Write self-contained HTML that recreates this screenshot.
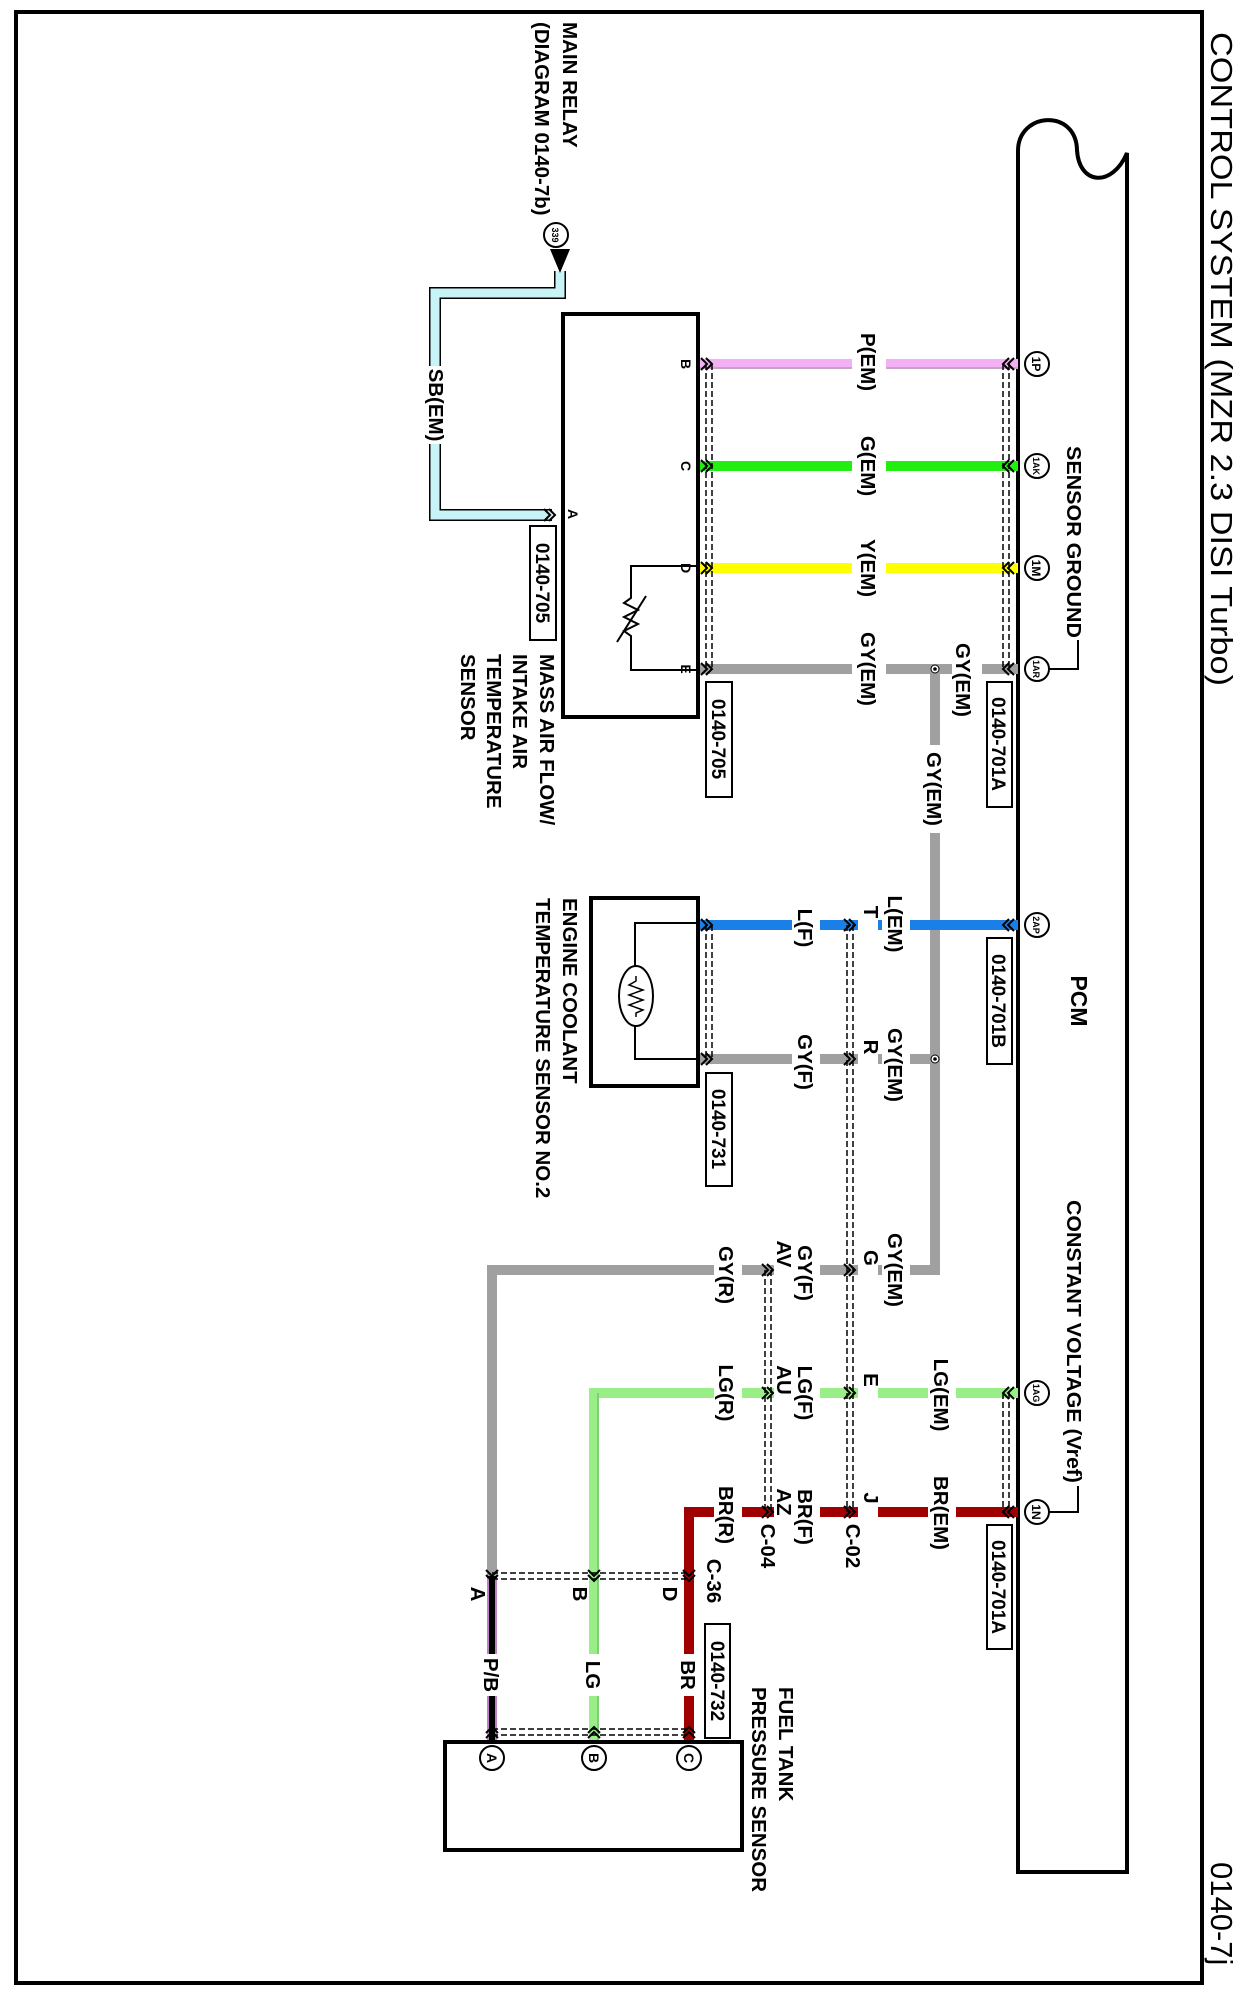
<!DOCTYPE html>
<html><head><meta charset="utf-8"><style>
html,body{margin:0;padding:0;background:#fff}
svg{display:block}
text{font-family:"Liberation Sans",Arial,sans-serif;font-weight:bold;fill:#000}
</style></head><body>
<svg width="1244" height="1998" viewBox="0 0 1244 1998" xmlns="http://www.w3.org/2000/svg">
<defs>
<path id="chl" d="M7,-6 L1,0 L7,6 M12,-6 L6,0 L12,6" fill="none" stroke="#000" stroke-width="2"/>
</defs>
<rect x="0" y="0" width="1244" height="1998" fill="#fff"/>
<rect x="16" y="12" width="1186" height="1971" fill="none" stroke="#000" stroke-width="4"/>
<text transform="translate(1211,32) rotate(90)" font-size="31" textLength="654" lengthAdjust="spacingAndGlyphs" style="font-weight:normal">CONTROL SYSTEM (MZR 2.3 DISI Turbo)</text>
<text transform="translate(1211,1862) rotate(90)" font-size="31" style="font-weight:normal">0140-7j</text>

<path d="M1018,1872 V151 C1018,112 1076,108 1077,150 C1079,185 1112,188 1127,153 V1872 Z" fill="none" stroke="#000" stroke-width="4"/>
<text transform="translate(1071,1001) rotate(90)" font-size="23" text-anchor="middle">PCM</text>
<text transform="translate(1067,446) rotate(90)" font-size="20.5" textLength="192" lengthAdjust="spacingAndGlyphs">SENSOR GROUND</text>
<polyline points="1078,640 1078,669 1049,669" fill="none" stroke="#000" stroke-width="2"/>
<text transform="translate(1067,1200) rotate(90)" font-size="20.5" textLength="283" lengthAdjust="spacingAndGlyphs">CONSTANT VOLTAGE (Vref)</text>
<polyline points="1078,1486 1078,1512 1049,1512" fill="none" stroke="#000" stroke-width="2"/>

<line x1="935" y1="669" x2="935" y2="1275" stroke="#a0a0a0" stroke-width="10"/>

<g stroke-width="10" fill="none">
<line x1="698" y1="364" x2="1018" y2="364" stroke="#f4b0f4"/>
<line x1="698" y1="466" x2="1018" y2="466" stroke="#22ee11"/>
<line x1="698" y1="568" x2="1018" y2="568" stroke="#ffff00"/>
<line x1="698" y1="669" x2="1018" y2="669" stroke="#a0a0a0"/>
<line x1="698" y1="925" x2="1018" y2="925" stroke="#1a80e8"/>
<line x1="698" y1="1059" x2="935" y2="1059" stroke="#a0a0a0"/>
<polyline points="940,1270 492,1270 492,1576" stroke="#a0a0a0"/>
<polyline points="1018,1393 594,1393 594,1743" stroke="#99ee88"/>
<polyline points="1018,1512 689,1512 689,1743" stroke="#a00000"/>
<line x1="492" y1="1576" x2="492" y2="1743" stroke="#000"/>
</g>
<line x1="698" y1="368" x2="1018" y2="368" stroke="#999" stroke-width="1"/>
<line x1="488" y1="1578" x2="488" y2="1743" stroke="#c080c8" stroke-width="2"/>
<line x1="496" y1="1578" x2="496" y2="1743" stroke="#c080c8" stroke-width="2"/>
<line x1="598" y1="1393" x2="598" y2="1743" stroke="#6a6" stroke-width="1"/>

<polyline points="560,271 560,293 435,293 435,515 552,515" fill="none" stroke="#000" stroke-width="12"/>
<polyline points="560,271 560,293 435,293 435,515 552,515" fill="none" stroke="#c8f4f8" stroke-width="9"/>
<polygon points="550,249 570,249 560,273" fill="#000"/>
<circle cx="556" cy="235" r="12" fill="#fff" stroke="#000" stroke-width="2"/>
<text transform="translate(552,235) rotate(90)" font-size="9" text-anchor="middle">339</text>
<text transform="translate(563,22) rotate(90)" font-size="20.5">MAIN RELAY</text>
<text transform="translate(535,22) rotate(90)" font-size="20.5">(DIAGRAM 0140-7b)</text>

<g fill="#fff">
<rect x="852" y="330" width="34" height="68"/>
<rect x="852" y="432" width="34" height="68"/>
<rect x="852" y="534" width="34" height="68"/>
<rect x="852" y="630" width="34" height="78"/>
<rect x="952" y="650" width="30" height="60"/>
<rect x="926" y="745" width="20" height="88"/>
<rect x="425" y="366" width="22" height="78"/>
<rect x="792" y="906" width="28" height="42"/>
<rect x="858" y="900" width="20" height="50"/>
<rect x="882" y="891" width="28" height="66"/>
<rect x="792" y="1030" width="28" height="64"/>
<rect x="858" y="1035" width="20" height="50"/>
<rect x="882" y="1026" width="28" height="78"/>
<rect x="882" y="1228" width="28" height="84"/>
<rect x="858" y="1245" width="20" height="45"/>
<rect x="792" y="1241" width="28" height="64"/>
<rect x="774" y="1238" width="20" height="45"/>
<rect x="714" y="1241" width="28" height="68"/>
<rect x="928" y="1351" width="28" height="88"/>
<rect x="858" y="1370" width="20" height="45"/>
<rect x="792" y="1361" width="28" height="64"/>
<rect x="774" y="1363" width="20" height="45"/>
<rect x="714" y="1361" width="28" height="64"/>
<rect x="928" y="1470" width="28" height="86"/>
<rect x="858" y="1488" width="20" height="45"/>
<rect x="792" y="1485" width="28" height="64"/>
<rect x="774" y="1487" width="20" height="45"/>
<rect x="714" y="1481" width="28" height="68"/>
<rect x="480" y="1654" width="24" height="42"/>
<rect x="582" y="1654" width="24" height="42"/>
<rect x="677" y="1654" width="24" height="42"/>
</g>

<g font-size="20.5" text-anchor="middle">
<text transform="translate(861,362) rotate(90)">P(EM)</text>
<text transform="translate(861,466) rotate(90)">G(EM)</text>
<text transform="translate(861,568) rotate(90)">Y(EM)</text>
<text transform="translate(861,669) rotate(90)">GY(EM)</text>
<text transform="translate(956,680) rotate(90)">GY(EM)</text>
<text transform="translate(927,789) rotate(90)">GY(EM)</text>
<text transform="translate(429,405) rotate(90)">SB(EM)</text>
<text transform="translate(798,928) rotate(90)">L(F)</text>
<text transform="translate(864,912) rotate(90)">T</text>
<text transform="translate(888,924) rotate(90)">L(EM)</text>
<text transform="translate(798,1062) rotate(90)">GY(F)</text>
<text transform="translate(864,1047) rotate(90)">R</text>
<text transform="translate(888,1065) rotate(90)">GY(EM)</text>
<text transform="translate(888,1270) rotate(90)">GY(EM)</text>
<text transform="translate(864,1258) rotate(90)">G</text>
<text transform="translate(798,1273) rotate(90)">GY(F)</text>
<text transform="translate(777,1254) rotate(90)">AV</text>
<text transform="translate(719,1275) rotate(90)">GY(R)</text>
<text transform="translate(934,1395) rotate(90)">LG(EM)</text>
<text transform="translate(864,1380) rotate(90)">E</text>
<text transform="translate(798,1393) rotate(90)">LG(F)</text>
<text transform="translate(777,1380) rotate(90)">AU</text>
<text transform="translate(719,1393) rotate(90)">LG(R)</text>
<text transform="translate(934,1513) rotate(90)">BR(EM)</text>
<text transform="translate(864,1498) rotate(90)">J</text>
<text transform="translate(798,1517) rotate(90)">BR(F)</text>
<text transform="translate(777,1502) rotate(90)">AZ</text>
<text transform="translate(719,1515) rotate(90)">BR(R)</text>
<text transform="translate(846,1546) rotate(90)">C-02</text>
<text transform="translate(761,1546) rotate(90)">C-04</text>
<text transform="translate(707,1581) rotate(90)">C-36</text>
<text transform="translate(484,1675) rotate(90)">P/B</text>
<text transform="translate(586,1675) rotate(90)">LG</text>
<text transform="translate(681,1675) rotate(90)">BR</text>
<text transform="translate(471,1594) rotate(90)">A</text>
<text transform="translate(573,1594) rotate(90)">B</text>
<text transform="translate(663,1594) rotate(90)">D</text>
</g>

<circle cx="935" cy="669" r="4" fill="#fff" stroke="#000" stroke-width="1"/><circle cx="935" cy="669" r="1.8" fill="#000"/>
<circle cx="935" cy="1059" r="4" fill="#fff" stroke="#000" stroke-width="1"/><circle cx="935" cy="1059" r="1.8" fill="#000"/>

<g stroke="#000" stroke-width="1.5" stroke-dasharray="6,3" fill="none">
<line x1="1003" y1="364" x2="1003" y2="669"/><line x1="1009" y1="364" x2="1009" y2="669"/>
<line x1="706" y1="364" x2="706" y2="669"/><line x1="712" y1="364" x2="712" y2="669"/>
<line x1="1003" y1="1393" x2="1003" y2="1512"/><line x1="1009" y1="1393" x2="1009" y2="1512"/>
<line x1="706" y1="925" x2="706" y2="1059"/><line x1="712" y1="925" x2="712" y2="1059"/>
<line x1="847" y1="925" x2="847" y2="1512"/><line x1="853" y1="925" x2="853" y2="1512"/>
<line x1="765" y1="1270" x2="765" y2="1512"/><line x1="771" y1="1270" x2="771" y2="1512"/>
<line x1="492" y1="1573" x2="689" y2="1573"/><line x1="492" y1="1579" x2="689" y2="1579"/>
<line x1="492" y1="1729" x2="689" y2="1729"/><line x1="492" y1="1735" x2="689" y2="1735"/>
</g>

<g>
<use href="#chl" transform="translate(1002,364)"/><use href="#chl" transform="translate(1002,466)"/>
<use href="#chl" transform="translate(1002,568)"/><use href="#chl" transform="translate(1002,669)"/>
<use href="#chl" transform="translate(1002,925)"/><use href="#chl" transform="translate(1002,1393)"/>
<use href="#chl" transform="translate(1002,1512)"/>
<use href="#chl" transform="translate(713,364) scale(-1,1)"/><use href="#chl" transform="translate(713,466) scale(-1,1)"/>
<use href="#chl" transform="translate(713,568) scale(-1,1)"/><use href="#chl" transform="translate(713,669) scale(-1,1)"/>
<use href="#chl" transform="translate(713,925) scale(-1,1)"/><use href="#chl" transform="translate(713,1059) scale(-1,1)"/>
<use href="#chl" transform="translate(856,925) scale(-1,1)"/><use href="#chl" transform="translate(856,1059) scale(-1,1)"/>
<use href="#chl" transform="translate(856,1270) scale(-1,1)"/><use href="#chl" transform="translate(856,1393) scale(-1,1)"/>
<use href="#chl" transform="translate(856,1512) scale(-1,1)"/>
<use href="#chl" transform="translate(774,1270) scale(-1,1)"/><use href="#chl" transform="translate(774,1393) scale(-1,1)"/>
<use href="#chl" transform="translate(774,1512) scale(-1,1)"/>
<use href="#chl" transform="translate(556,515) scale(-1,1)"/>
<use href="#chl" transform="translate(492,1582) rotate(-90)"/><use href="#chl" transform="translate(594,1582) rotate(-90)"/>
<use href="#chl" transform="translate(689,1582) rotate(-90)"/>
<use href="#chl" transform="translate(492,1726) rotate(90)"/><use href="#chl" transform="translate(594,1726) rotate(90)"/>
<use href="#chl" transform="translate(689,1726) rotate(90)"/>
</g>

<g fill="#fff" stroke="#000" stroke-width="2">
<circle cx="1037" cy="364" r="12"/><circle cx="1037" cy="466" r="12"/><circle cx="1037" cy="568" r="12"/>
<circle cx="1037" cy="669" r="12"/><circle cx="1037" cy="925" r="12"/><circle cx="1037" cy="1393" r="12"/>
<circle cx="1037" cy="1512" r="12"/>
</g>
<g font-size="12" text-anchor="middle">
<text transform="translate(1032,364) rotate(90)">1P</text>
<text transform="translate(1033,466) rotate(90)" font-size="9">1AK</text>
<text transform="translate(1032,568) rotate(90)">1M</text>
<text transform="translate(1033,669) rotate(90)" font-size="9">1AR</text>
<text transform="translate(1033,925) rotate(90)" font-size="9">2AP</text>
<text transform="translate(1033,1393) rotate(90)" font-size="9">1AG</text>
<text transform="translate(1032,1512) rotate(90)">1N</text>
</g>

<g fill="#fff" stroke="#000" stroke-width="2">
<rect x="987" y="682" width="25" height="125"/>
<rect x="706" y="682" width="26" height="115"/>
<rect x="530" y="526" width="26" height="114"/>
<rect x="987" y="938" width="25" height="126"/>
<rect x="706" y="1073" width="26" height="113"/>
<rect x="987" y="1525" width="25" height="124"/>
<rect x="705" y="1624" width="25" height="114"/>
</g>
<g font-size="19" text-anchor="middle">
<text transform="translate(992,744) rotate(90)">0140-701A</text>
<text transform="translate(712,739) rotate(90)">0140-705</text>
<text transform="translate(536,583) rotate(90)">0140-705</text>
<text transform="translate(992,1001) rotate(90)">0140-701B</text>
<text transform="translate(712,1129) rotate(90)">0140-731</text>
<text transform="translate(992,1587) rotate(90)">0140-701A</text>
<text transform="translate(711,1681) rotate(90)">0140-732</text>
</g>

<rect x="563" y="314" width="135" height="403" fill="none" stroke="#000" stroke-width="4"/>
<polyline points="698,566 631,566 631,598 624,603 638,610 624,617 638,624 624,631 631,636 631,670 698,670" fill="none" stroke="#000" stroke-width="2"/>
<line x1="617" y1="642" x2="646" y2="596" stroke="#000" stroke-width="2"/>
<g font-size="14" text-anchor="middle">
<text transform="translate(681,364) rotate(90)">B</text>
<text transform="translate(681,466) rotate(90)">C</text>
<text transform="translate(681,568) rotate(90)">D</text>
<text transform="translate(681,669) rotate(90)">E</text>
<text transform="translate(568,514) rotate(90)">A</text>
</g>
<g font-size="20.5">
<text transform="translate(540,654) rotate(90)">MASS AIR FLOW/</text>
<text transform="translate(513,654) rotate(90)">INTAKE AIR</text>
<text transform="translate(487,654) rotate(90)">TEMPERATURE</text>
<text transform="translate(461,654) rotate(90)">SENSOR</text>
</g>

<rect x="591" y="898" width="107" height="188" fill="none" stroke="#000" stroke-width="4"/>
<polyline points="698,923 635,923 635,1059 698,1059" fill="none" stroke="#000" stroke-width="2"/>
<ellipse cx="636" cy="996" rx="17" ry="30" fill="#fff" stroke="#000" stroke-width="2"/>
<polyline points="636,976 636,981 629,985 643,990 629,995 643,1000 629,1005 643,1010 636,1013 636,1017" fill="none" stroke="#000" stroke-width="1.5"/>
<text transform="translate(563,898) rotate(90)" font-size="20.5">ENGINE COOLANT</text>
<text transform="translate(536,898) rotate(90)" font-size="20.5">TEMPERATURE SENSOR NO.2</text>

<rect x="445" y="1742" width="297" height="108" fill="none" stroke="#000" stroke-width="4"/>
<g fill="#fff" stroke="#000" stroke-width="2">
<circle cx="492" cy="1758" r="12"/><circle cx="594" cy="1758" r="12"/><circle cx="689" cy="1758" r="12"/>
</g>
<g font-size="14" text-anchor="middle">
<text transform="translate(487,1758) rotate(90)">A</text>
<text transform="translate(589,1758) rotate(90)">B</text>
<text transform="translate(684,1758) rotate(90)">C</text>
</g>
<text transform="translate(779,1687) rotate(90)" font-size="20.5">FUEL TANK</text>
<text transform="translate(752,1687) rotate(90)" font-size="20.5">PRESSURE SENSOR</text>
</svg>
</body></html>
